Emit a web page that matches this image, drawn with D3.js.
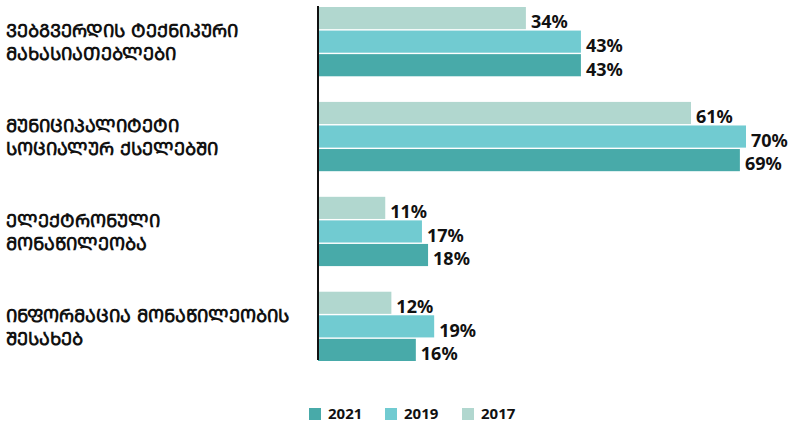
<!DOCTYPE html>
<html>
<head>
<meta charset="utf-8">
<script src="https://cdn.jsdelivr.net/npm/d3@7"></script>
<style>
  body { margin: 0; background: #fff; }
  text { font-family: "Noto Sans", "DejaVu Sans", sans-serif; font-weight: bold; fill: #111; }
  text.cat { font-family: "DejaVu Sans", sans-serif; }
</style>
</head>
<body>
<div id="chart"></div>
<script>
// data
var categories = [
    ["ᲕᲔᲑᲒᲕᲔᲠᲓᲘᲡ ᲢᲔᲥᲜᲘᲙᲣᲠᲘ", "ᲛᲐᲮᲐᲡᲘᲐᲗᲔᲑᲚᲔᲑᲘ"],
    ["ᲛᲣᲜᲘᲪᲘᲞᲐᲚᲘᲢᲔᲢᲘ", "ᲡᲝᲪᲘᲐᲚᲣᲠ ᲥᲡᲔᲚᲔᲑᲨᲘ"],
    ["ᲔᲚᲔᲥᲢᲠᲝᲜᲣᲚᲘ", "ᲛᲝᲜᲐᲬᲘᲚᲔᲝᲑᲐ"],
    ["ᲘᲜᲤᲝᲠᲛᲐᲪᲘᲐ ᲛᲝᲜᲐᲬᲘᲚᲔᲝᲑᲘᲡ", "ᲨᲔᲡᲐᲮᲔᲑ"]
];
var years = ["2017", "2019", "2021"];
var values2017 = [34, 61, 11, 12];
var values2019 = [43, 70, 17, 19];
var values2021 = [43, 69, 18, 16];
var colors = {"2021": "#48aaa9", "2019": "#71cbd1", "2017": "#b1d7cf"};

function init() {
    var w = 797, h = 426,
        x0 = 318;

    var series = {"2017": values2017, "2019": values2019, "2021": values2021};

    var svg = d3.select("#chart").append("svg")
        .attr("width", w)
        .attr("height", h);

    var xScale = d3.scaleLinear()
        .domain([0, 70])
        .range([x0, 746]);

    var yGroup = d3.scaleBand()
        .domain(d3.range(categories.length))
        .range([7, 361])
        .paddingInner(0.27)
        .paddingOuter(0);

    var yBar = d3.scaleBand()
        .domain(years)
        .range([0, yGroup.bandwidth()])
        .paddingInner(0.06);

    categories.forEach(function(lines, i) {
        var g = svg.append("g")
            .attr("transform", "translate(0," + yGroup(i) + ")");

        years.forEach(function(yr) {
            var v = series[yr][i];
            g.append("rect")
                .attr("x", xScale(0))
                .attr("y", yBar(yr))
                .attr("width", xScale(v) - xScale(0))
                .attr("height", yBar.bandwidth())
                .attr("fill", colors[yr]);

            g.append("text")
                .attr("x", xScale(v) + 5)
                .attr("y", yBar(yr) + yBar.bandwidth() / 2 + 4)
                .attr("dy", "0.35em")
                .style("font-size", "18px")
                .text(v + "%");
        });

        // category label
        var mid = yGroup.bandwidth() / 2;
        lines.forEach(function(line, j) {
            g.append("text")
                .attr("class", "cat")
                .attr("x", 6)
                .attr("y", mid + (j - 0.5) * 23 + 1)
                .attr("dy", "0.35em")
                .style("font-size", "18px")
                .text(line);
        });
    });

    // vertical axis line
    svg.append("line")
        .attr("x1", x0).attr("x2", x0)
        .attr("y1", 6).attr("y2", 360)
        .attr("stroke", "#111")
        .attr("stroke-width", 2);

    // legend
    var legendX = {"2021": 309, "2019": 385, "2017": 462};
    ["2021", "2019", "2017"].forEach(function(yr) {
        var item = svg.append("g")
            .attr("transform", "translate(" + legendX[yr] + ",408)");
        item.append("rect")
            .attr("width", 12)
            .attr("height", 12)
            .attr("fill", colors[yr]);
        item.append("text")
            .attr("x", 19)
            .attr("y", 6)
            .attr("dy", "0.35em")
            .style("font-size", "15px")
            .text(yr);
    });
}

init();
</script>
</body>
</html>
